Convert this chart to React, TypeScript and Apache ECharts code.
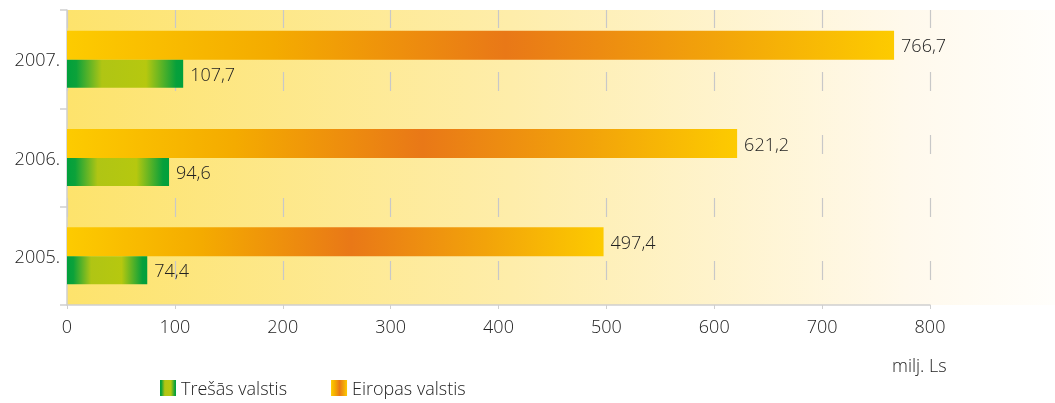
import React, { useEffect, useRef } from "react";
import * as echarts from "echarts";

const categories = ["2005.", "2006.", "2007."];
const tresasValues = [74.4, 94.6, 107.7];
const eiropasValues = [497.4, 621.2, 766.7];
const seriesNames = ["Trešās valstis", "Eiropas valstis"];
const unitLabel = "milj. Ls";

const FONT = "'Open Sans', 'Noto Sans', sans-serif";
const TEXT = "#222222";
const FS = 18;
const FW = 300;

export default function App() {
  const ref = useRef<HTMLDivElement>(null);
  useEffect(() => {
    if (!ref.current) return;
    const chart = echarts.init(ref.current, null, { renderer: "svg" });
    const greenGrad = new echarts.graphic.LinearGradient(0, 0, 1, 0, [
      { offset: 0, color: "#00a03c" },
      { offset: 0.08, color: "#0ca23a" },
      { offset: 0.3, color: "#b0c514" },
      { offset: 0.68, color: "#b6c80f" },
      { offset: 0.94, color: "#07a03b" },
      { offset: 1, color: "#00a03c" },
    ]);
    const orangeGrad = new echarts.graphic.LinearGradient(0, 0, 1, 0, [
      { offset: 0, color: "#fdcb00" },
      { offset: 0.25, color: "#f4ab00" },
      { offset: 0.53, color: "#e97817" },
      { offset: 0.78, color: "#f2a30a" },
      { offset: 1, color: "#fdcb00" },
    ]);
    const fmt = (p: any) => String(p.value).replace(".", ",");
    const labelStyle = {
      show: true,
      position: "right",
      distance: 7,
      color: TEXT,
      fontSize: FS,
      fontWeight: FW,
      fontFamily: FONT,
      formatter: fmt,
    };
    chart.setOption({
      animation: false,
      textStyle: { fontFamily: FONT },
      graphic: [
        {
          type: "rect",
          left: 67,
          top: 10,
          z: -100,
          shape: { width: 988, height: 295 },
          style: {
            fill: new echarts.graphic.LinearGradient(0, 0, 1, 0, [
              { offset: 0, color: "#fde36c" },
              { offset: 0.45, color: "#feedaa" },
              { offset: 0.85, color: "#fff9ec" },
              { offset: 1, color: "#fffefb" },
            ]),
          },
          silent: true,
        },
        {
          type: "text",
          left: 892,
          top: 356,
          style: { text: unitLabel, fill: TEXT, font: `${FW} ${FS}px ${FONT}` },
        },
      ],
      legend: {
        left: 155,
        top: 374,
        itemWidth: 16,
        itemHeight: 16,
        itemGap: 44,
        icon: "rect",
        textStyle: { color: TEXT, fontSize: FS, fontWeight: FW, fontFamily: FONT },
        data: seriesNames,
      },
      grid: { left: 67, right: 125, top: 10, bottom: 98 },
      xAxis: {
        type: "value",
        min: 0,
        max: 800,
        interval: 100,
        axisLine: { show: true, lineStyle: { color: "#cfcfcf", width: 1.5 } },
        axisTick: { show: true, length: 4, lineStyle: { color: "#cfcfcf" } },
        axisLabel: { color: TEXT, fontSize: FS, fontWeight: FW, margin: 12, fontFamily: FONT },
        splitLine: {
          show: true,
          lineStyle: { color: "#c8c8c8", width: 1.2, type: [19, 44], dashOffset: 1 },
        },
      },
      yAxis: {
        type: "category",
        data: categories,
        axisLine: { show: true, lineStyle: { color: "#cfcfcf", width: 1.5 } },
        axisTick: { show: true, length: 7, lineStyle: { color: "#cfcfcf", width: 1.5 } },
        axisLabel: { color: TEXT, fontSize: FS, fontWeight: FW, margin: 7, fontFamily: FONT },
      },
      series: [
        {
          name: seriesNames[1],
          type: "bar",
          data: eiropasValues,
          barWidth: 29,
          barGap: "0%",
          itemStyle: { color: orangeGrad },
          label: labelStyle,
        },
        {
          name: seriesNames[0],
          type: "bar",
          data: tresasValues,
          barWidth: 28,
          barGap: "0%",
          itemStyle: { color: greenGrad },
          label: labelStyle,
        },
      ],
    });
    return () => chart.dispose();
  }, []);
  return (
    <div
      ref={ref}
      style={{ position: "fixed", left: 0, top: 0, width: 1055, height: 403 }}
    />
  );
}
